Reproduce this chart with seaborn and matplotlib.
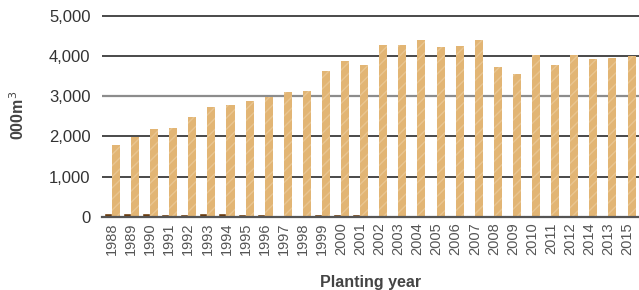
import numpy as np
import pandas as pd
import matplotlib
matplotlib.use('Agg')
import matplotlib.pyplot as plt
import seaborn as sns

### Data ###
years = ['1988', '1989', '1990', '1991', '1992', '1993', '1994', '1995', '1996', '1997',
         '1998', '1999', '2000', '2001', '2002', '2003', '2004', '2005', '2006', '2007',
         '2008', '2009', '2010', '2011', '2012', '2014', '2013', '2015']
small_vol = [95, 95, 95, 70, 70, 90, 95, 70, 70, 45,
             50, 55, 60, 55, 45, 30, 30, 30, 30, 30,
             30, 30, 35, 35, 35, 40, 40, 45]
large_vol = [1790, 1980, 2185, 2210, 2485, 2730, 2780, 2885, 2985, 3105,
             3130, 3630, 3880, 3780, 4280, 4280, 4400, 4230, 4255, 4400,
             3730, 3560, 4030, 3780, 4030, 3930, 3955, 4005]
series_names = ['Other', 'Main']

df = pd.DataFrame({'year': years * 2,
                   'value': small_vol + large_vol,
                   'series': [series_names[0]] * len(years) + [series_names[1]] * len(years)})

sns.set_style('white')
plt.rcParams['font.family'] = ['Liberation Sans', 'DejaVu Sans']
plt.rcParams['hatch.linewidth'] = 1.0

fig = plt.figure(figsize=(6.39, 2.90), dpi=100)
ax = fig.add_axes([0.159, 0.2528, 0.841, 0.699])

sns.barplot(data=df, x='year', y='value', hue='series', order=years,
            hue_order=series_names, palette=['#6a3a0a', '#e2b574'],
            saturation=1, width=0.84, gap=0, dodge=True, legend=False, ax=ax)

# subtle wood-like texture on the tall bars
for p in ax.patches:
    if p.get_height() > 500:
        p.set_hatch('///')
        p.set_edgecolor('#e9c590')
        p.set_linewidth(0)

ax.set_ylim(0, 5050)
ax.set_xlim(-0.54, len(years) - 0.4)
ax.set_yticks([0, 1000, 2000, 3000, 4000, 5000])
ax.set_yticklabels(['0', '1,000', '2,000', '3,000', '4,000', '5,000'], fontsize=12, color='#333333')
ax.tick_params(axis='y', length=0, pad=8)
ax.tick_params(axis='x', length=0, pad=4)
ax.set_xticks(range(len(years)))
ax.set_xticklabels(years, rotation=90, fontsize=10.5, color='#555555')

# grid lines
ax.set_axisbelow(True)
ax.yaxis.grid(True, color='#3a3a3a', linewidth=1.3)
for gl, t in zip(ax.get_ygridlines(), ax.get_yticks()):
    if t == 3000:
        gl.set_color('#8c8c8c')
        gl.set_linewidth(1.6)
ax.xaxis.grid(False)

for s in ['top', 'right', 'left']:
    ax.spines[s].set_visible(False)
ax.spines['bottom'].set_color('#555555')
ax.spines['bottom'].set_linewidth(1.6)

ax.set_xlabel('Planting year', fontsize=11.5, fontweight='bold', color='#444444', labelpad=14)
ax.set_ylabel('000m$^3$', fontsize=11.5, fontweight='bold', color='#444444', labelpad=16)

fig.savefig('out.png', dpi=100)
